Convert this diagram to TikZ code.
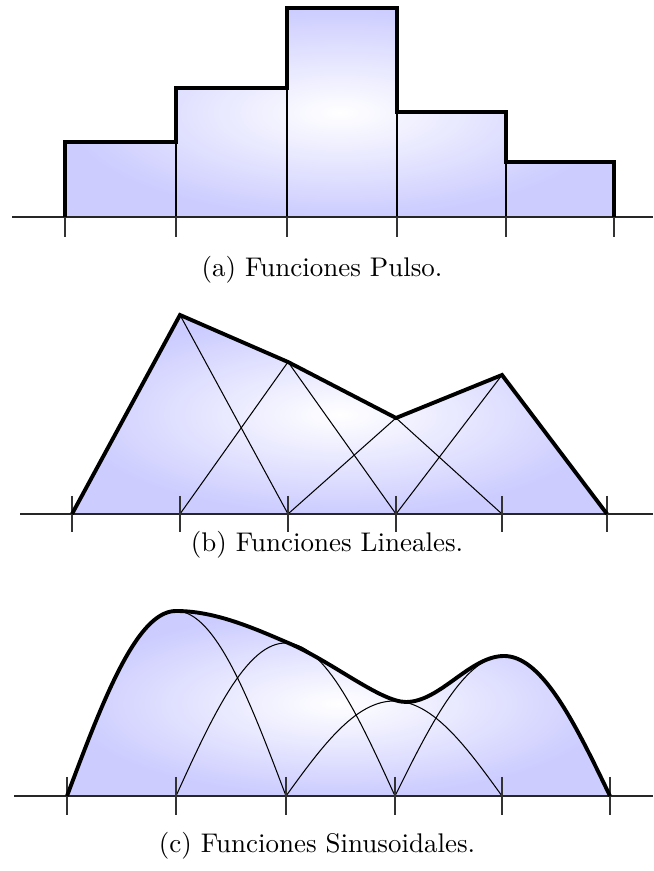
\documentclass[tikz,border=0pt]{standalone}
\usepackage{tikz}
\usetikzlibrary{calc}
\definecolor{basisblue}{HTML}{CCCCFF}

\tikzset{
  envelope/.style={line width=1.5pt},
  basis/.style={line width=0.4pt},
  axisline/.style={line width=0.5pt,black!85},
  filling/.style={inner color=white,outer color=basisblue},
  tick/.style={line width=0.4pt,black!80},
  caption/.style={font=\fontsize{10.4}{12.5}\selectfont}
}

% contour of the sinusoidal approximation
\newcommand{\sinenvelope}{(67,0) -- plot[domain=67:176,samples=40] (\x,{185*sin((\x-67)/109*90)})
  .. controls (213,185) and (249,170) .. (286,154)
  .. controls (330,136) and (380,94) .. (406,94)
  .. controls (440,94) and (470,140) .. (504,140)
  -- plot[domain=504:610,samples=40] (\x,{140*cos((\x-504)/106*90)})}

\begin{document}
\begin{tikzpicture}[x=0.3855pt,y=0.3855pt]
  \useasboundingbox (0,0) rectangle (653,871);
  % (a)
  \begin{scope}[shift={(0,654)}]
    \shade[filling] (65,0) -- (65,75) -- (176,75) -- (176,129) -- (287,129) -- (287,209) -- (397,209) -- (397,105) -- (506,105) -- (506,55) -- (614,55) -- (614,0) -- cycle;
    \foreach \xa/\ha in {176/129,287/209,397/209,506/105}{\draw[basis] (\xa,0) -- (\xa,\ha);}
    \draw[axisline] (12,0) -- (653,0);
    \foreach \xt in {65,176,287,397,506,614}{\draw[tick] (\xt,0) -- (\xt,-20);}
    \draw[envelope] (65,0) -- (65,75) -- (176,75) -- (176,129) -- (287,129) -- (287,209) -- (397,209) -- (397,105) -- (506,105) -- (506,55) -- (614,55) -- (614,0);
    \node[caption] (capA) at (322,-53) {(a) Funciones Pulso.};
  \end{scope}
  % (b)
  \begin{scope}[shift={(0,357)}]
    \shade[filling] (72,0) -- (180,199) -- (288,152) -- (396,96) -- (502,139) -- (607,0) -- cycle;
    \foreach \xl/\xm/\xr/\hm in {72/180/288/199,180/288/396/152,288/396/502/96,396/502/607/139}{\draw[basis] (\xl,0) -- (\xm,\hm) -- (\xr,0);}
    \draw[axisline] (20,0) -- (653,0);
    \foreach \xt in {72,180,288,396,502,607}{\draw[tick] (\xt,18) -- (\xt,-18);}
    \draw[envelope] (72,0) -- (180,199) -- (288,152) -- (396,96) -- (502,139) -- (607,0);
    \node[caption] (capB) at (327,-31) {(b) Funciones Lineales.};
  \end{scope}
  % (c)
  \begin{scope}[shift={(0,75)}]
    \shade[filling] \sinenvelope -- cycle;
    \draw[basis] plot[domain=176:286,samples=40] (\x,{185*cos((\x-176)/110*90)});
    \draw[basis] plot[domain=176:395,samples=60] (\x,{153*sin((\x-176)/219*180)});
    \draw[basis] plot[domain=286:502,samples=60] (\x,{95*sin((\x-286)/216*180)});
    \draw[basis] plot[domain=395:504,samples=40] (\x,{140*sin((\x-395)/109*90)});
    \draw[axisline] (14,0) -- (653,0);
    \foreach \xt in {67,176,286,395,502,610}{\draw[tick] (\xt,19) -- (\xt,-19);}
    \draw[envelope] \sinenvelope;
    \node[caption] (capC) at (317,-50) {(c) Funciones Sinusoidales.};
  \end{scope}
\end{tikzpicture}
\end{document}
